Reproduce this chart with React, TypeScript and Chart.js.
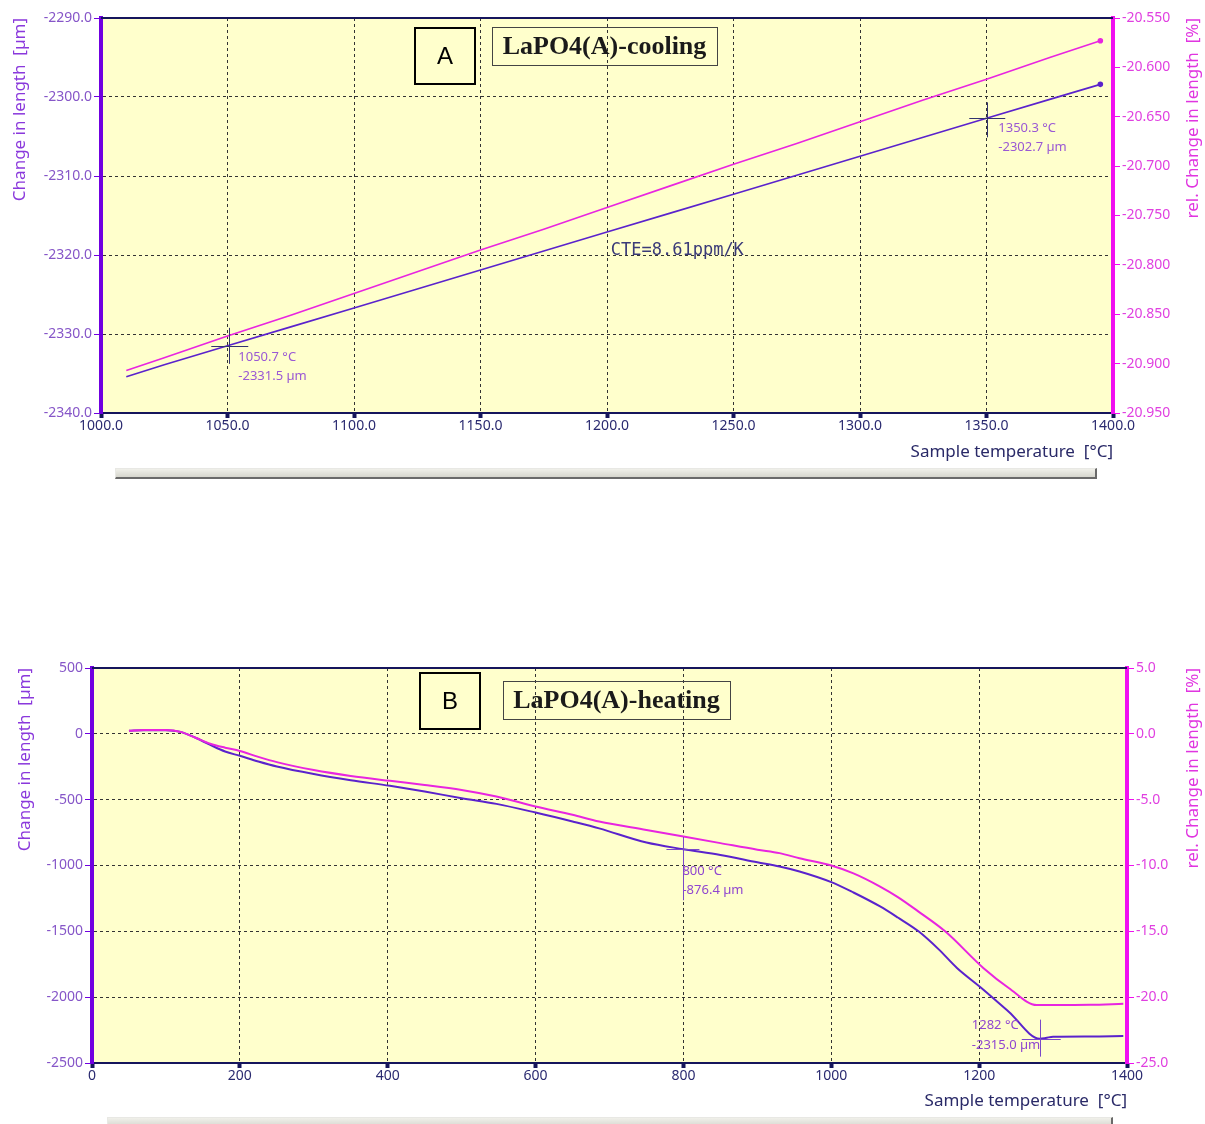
import React, { useEffect, useRef } from 'react';
import { Chart, registerables } from 'chart.js';

Chart.register(...registerables);

// ---------- Panel A : LaPO4(A)-cooling ----------
const coolTemp = [1010, 1025, 1050, 1075, 1100, 1125, 1150, 1175, 1200, 1225, 1250, 1275, 1300, 1325, 1350, 1375, 1395];
const coolLength = [-2335.4, -2333.9, -2331.5, -2329.1, -2326.7, -2324.3, -2321.9, -2319.5, -2317.1, -2314.7, -2312.3, -2309.9, -2307.5, -2305.1, -2302.7, -2300.3, -2298.4];
const coolRel = [-20.907, -20.894, -20.872, -20.851, -20.829, -20.807, -20.785, -20.764, -20.742, -20.720, -20.698, -20.677, -20.655, -20.633, -20.612, -20.590, -20.573];
const coolXTicks = [1000, 1050, 1100, 1150, 1200, 1250, 1300, 1350, 1400];
const coolYTicks = [-2340, -2330, -2320, -2310, -2300, -2290];
const coolY1Ticks = [-20.95, -20.9, -20.85, -20.8, -20.75, -20.7, -20.65, -20.6, -20.55];
const coolMarkTemp = [1050.7, 1350.3];
const coolMarkLength = [-2331.5, -2302.7];
const coolTitle = 'LaPO4(A)-cooling';
const coolCte = 'CTE=8.61ppm/K';

// ---------- Panel B : LaPO4(A)-heating ----------
const heatTempLen = [50, 70, 100, 120, 140, 160, 180, 200, 225, 250, 300, 350, 403, 450, 500, 547, 600, 650, 686, 750, 800, 850, 900, 930, 957, 1000, 1030, 1066, 1090, 1118, 1145, 1170, 1203, 1240, 1282, 1290, 1300, 1350, 1395];
const heatLength = [23, 28, 28, 15, -30, -84, -134, -167, -210, -248, -305, -352, -395, -438, -489, -532, -598, -666, -718, -826, -876, -920, -975, -1007, -1045, -1126, -1205, -1311, -1395, -1500, -1635, -1778, -1930, -2110, -2315, -2310, -2300, -2298, -2295];
const heatTempRel = [50, 70, 100, 120, 140, 160, 180, 200, 225, 250, 300, 350, 403, 450, 500, 547, 600, 650, 686, 750, 800, 850, 900, 930, 957, 1000, 1030, 1066, 1090, 1118, 1154, 1206, 1240, 1278, 1300, 1350, 1395];
const heatRel = [0.23, 0.3, 0.3, 0.15, -0.3, -0.75, -1.05, -1.3, -1.75, -2.15, -2.75, -3.2, -3.57, -3.88, -4.26, -4.76, -5.52, -6.15, -6.66, -7.3, -7.8, -8.3, -8.8, -9.06, -9.45, -10.0, -10.6, -11.6, -12.4, -13.5, -15.0, -17.8, -19.3, -20.6, -20.6, -20.58, -20.5];
const heatXTicks = [0, 200, 400, 600, 800, 1000, 1200, 1400];
const heatYTicks = [-2500, -2000, -1500, -1000, -500, 0, 500];
const heatY1Ticks = [-25, -20, -15, -10, -5, 0, 5];
const heatMarkTemp = [800, 1282];
const heatMarkLength = [-876.4, -2315.0];
const heatTitle = 'LaPO4(A)-heating';

const NAVY = '#15155c';
const PURPLE_AXIS = '#7000e0';
const MAGENTA_AXIS = '#f010f0';
const BLUE_LINE = '#5a22cc';
const MAG_LINE = '#e825e0';
const BG = '#ffffcc';
const SANS = '"Noto Sans", "DejaVu Sans", sans-serif';

type PanelCfg = {
  w: number; h: number; padTop: number; leftW: number; rightW: number; bottomH: number;
  xT: number[]; yT: number[]; y1T: number[]; xDec: number; yDec: number; y1Dec: number;
  lenX: number[]; lenY: number[]; relX: number[]; relY: number[];
  markT: number[]; markV: number[]; markTDec: number;
  markColor: string; textColor: string;
  markExt: number[][];
  textOff: number[][];
  letter: string; letterBox: number[]; title: string; titleBox: number[];
  leftTitleAt: number[]; rightTitleAt: number[]; xTitleAt: number[];
  endDots: boolean; smooth: boolean; lineW: number;
  cte?: { text: string; t: number; v: number };
};

function buildChart(canvas: HTMLCanvasElement, c: PanelCfg) {
  const decor = {
    id: 'decor',
    beforeDraw(chart: any) {
      const { ctx, chartArea: ca } = chart;
      ctx.save();
      ctx.fillStyle = BG;
      ctx.fillRect(ca.left, ca.top, ca.right - ca.left, ca.bottom - ca.top);
      ctx.restore();
    },
    afterDraw(chart: any) {
      const { ctx, chartArea: ca } = chart;
      const xs = chart.scales.x;
      const ys = chart.scales.y;
      ctx.save();
      ctx.strokeStyle = NAVY;
      ctx.lineWidth = 2;
      ctx.beginPath();
      ctx.moveTo(ca.left, ca.top);
      ctx.lineTo(ca.right, ca.top);
      ctx.stroke();

      const [lx, ly, lw, lh] = c.letterBox;
      ctx.strokeStyle = '#000';
      ctx.lineWidth = 2;
      ctx.strokeRect(lx, ly, lw, lh);
      ctx.fillStyle = '#000';
      ctx.font = '24px "Liberation Sans", sans-serif';
      ctx.textAlign = 'center';
      ctx.textBaseline = 'middle';
      ctx.fillText(c.letter, lx + lw / 2, ly + lh / 2 + 1);

      const [tx, ty, tw, th] = c.titleBox;
      ctx.strokeStyle = '#444';
      ctx.lineWidth = 1;
      ctx.strokeRect(tx + 0.5, ty + 0.5, tw, th);
      ctx.fillStyle = '#1a1a1a';
      ctx.font = 'bold 26px "Liberation Serif", serif';
      ctx.textAlign = 'center';
      ctx.fillText(c.title, tx + tw / 2, ty + th / 2 + 1);

      ctx.font = '17px ' + SANS;
      ctx.textBaseline = 'middle';
      ctx.save();
      ctx.translate(c.leftTitleAt[0], c.leftTitleAt[1]);
      ctx.rotate(-Math.PI / 2);
      ctx.textAlign = 'right';
      ctx.fillStyle = '#8a38dc';
      ctx.fillText('Change in length  [µm]', 0, 0);
      ctx.restore();
      ctx.save();
      ctx.translate(c.rightTitleAt[0], c.rightTitleAt[1]);
      ctx.rotate(-Math.PI / 2);
      ctx.textAlign = 'right';
      ctx.fillStyle = '#e035e0';
      ctx.fillText('rel. Change in length  [%]', 0, 0);
      ctx.restore();
      ctx.textAlign = 'right';
      ctx.fillStyle = '#2a2a68';
      ctx.fillText('Sample temperature  [°C]', c.xTitleAt[0], c.xTitleAt[1]);

      if (c.cte) {
        ctx.font = '17px "DejaVu Sans Mono", monospace';
        ctx.fillStyle = '#3a3a78';
        ctx.textAlign = 'left';
        ctx.textBaseline = 'alphabetic';
        ctx.fillText(c.cte.text, xs.getPixelForValue(c.cte.t), ys.getPixelForValue(c.cte.v));
      }

      c.markT.forEach((t, i) => {
        const px = xs.getPixelForValue(t);
        const py = ys.getPixelForValue(c.markV[i]);
        const [el, er, eu, ed] = c.markExt[i];
        ctx.strokeStyle = c.markColor;
        ctx.lineWidth = 1;
        ctx.beginPath();
        ctx.moveTo(px - el, Math.round(py) + 0.5);
        ctx.lineTo(px + er, Math.round(py) + 0.5);
        ctx.moveTo(Math.round(px) + 0.5, py - eu);
        ctx.lineTo(Math.round(px) + 0.5, py + ed);
        ctx.stroke();
        const [dx, dy1, dy2] = c.textOff[i];
        ctx.font = '13px ' + SANS;
        ctx.fillStyle = c.textColor;
        ctx.textAlign = 'left';
        ctx.textBaseline = 'middle';
        ctx.fillText(t.toFixed(c.markTDec) + ' °C', px + dx, py + dy1);
        ctx.fillText(c.markV[i].toFixed(1) + ' µm', px + dx, py + dy2);
      });
      ctx.restore();
    },
  };

  const tickFont = { family: SANS, size: 14 };
  const setTicks = (arr: number[]) => (s: any) => {
    s.ticks = arr.map((v) => ({ value: v }));
  };
  const lastLen = c.lenX.length - 1;
  const lastRel = c.relX.length - 1;

  return new Chart(canvas, {
    type: 'line',
    data: {
      datasets: [
        {
          data: c.relX.map((x, i) => ({ x, y: c.relY[i] })),
          yAxisID: 'y1',
          borderColor: MAG_LINE,
          backgroundColor: MAG_LINE,
          borderWidth: c.lineW,
          pointRadius: (ctx: any) => (c.endDots && ctx.dataIndex === lastRel ? 2 : 0),
          tension: 0,
          cubicInterpolationMode: c.smooth ? 'monotone' : 'default',
        },
        {
          data: c.lenX.map((x, i) => ({ x, y: c.lenY[i] })),
          yAxisID: 'y',
          borderColor: BLUE_LINE,
          backgroundColor: BLUE_LINE,
          borderWidth: c.lineW,
          pointRadius: (ctx: any) => (c.endDots && ctx.dataIndex === lastLen ? 2 : 0),
          tension: 0,
          cubicInterpolationMode: c.smooth ? 'monotone' : 'default',
        },
      ],
    } as any,
    options: {
      responsive: false,
      maintainAspectRatio: false,
      animation: false,
      devicePixelRatio: 1,
      layout: { padding: { top: c.padTop, left: 0, right: 0, bottom: 0 } },
      plugins: { legend: { display: false }, tooltip: { enabled: false }, title: { display: false } },
      scales: {
        x: {
          type: 'linear',
          min: c.xT[0],
          max: c.xT[c.xT.length - 1],
          afterBuildTicks: setTicks(c.xT),
          afterFit: (s: any) => { s.height = c.bottomH; },
          grid: { color: '#333', lineWidth: 1, drawTicks: true, tickLength: 5, tickWidth: 4, tickColor: NAVY, tickBorderDash: [] },
          border: { display: true, color: NAVY, width: 2, dash: [3, 3] },
          ticks: { color: '#2a2a70', font: tickFont, padding: 0, maxRotation: 0, autoSkip: false, callback: (v: any) => Number(v).toFixed(c.xDec) },
        },
        y: {
          type: 'linear',
          position: 'left',
          min: c.yT[0],
          max: c.yT[c.yT.length - 1],
          afterBuildTicks: setTicks(c.yT),
          afterFit: (s: any) => { s.width = c.leftW; },
          grid: { color: '#333', lineWidth: 1, drawTicks: true, tickLength: 7, tickWidth: 1, tickColor: PURPLE_AXIS, tickBorderDash: [] },
          border: { display: true, color: PURPLE_AXIS, width: 4, dash: [3, 3] },
          ticks: { color: '#8656c8', font: tickFont, padding: 2, autoSkip: false, callback: (v: any) => Number(v).toFixed(c.yDec) },
        },
        y1: {
          type: 'linear',
          position: 'right',
          min: c.y1T[0],
          max: c.y1T[c.y1T.length - 1],
          afterBuildTicks: setTicks(c.y1T),
          afterFit: (s: any) => { s.width = c.rightW; },
          grid: { drawOnChartArea: false, drawTicks: true, tickLength: 7, tickWidth: 1, tickColor: MAGENTA_AXIS, tickBorderDash: [] },
          border: { display: true, color: MAGENTA_AXIS, width: 4 },
          ticks: { color: '#e040e0', font: tickFont, padding: 2, autoSkip: false, callback: (v: any) => Number(v).toFixed(c.y1Dec) },
        },
      },
    } as any,
    plugins: [decor],
  });
}

const panelA: PanelCfg = {
  w: 1205, h: 490, padTop: 18, leftW: 101, rightW: 92, bottomH: 77,
  xT: coolXTicks, yT: coolYTicks, y1T: coolY1Ticks, xDec: 1, yDec: 1, y1Dec: 3,
  lenX: coolTemp, lenY: coolLength, relX: coolTemp, relY: coolRel,
  markT: coolMarkTemp, markV: coolMarkLength, markTDec: 1,
  markColor: '#33336e', textColor: '#9a58d4',
  markExt: [[18, 19, 18, 18], [18, 18, 16, 19]],
  textOff: [[9, 11, 30], [11, 10, 29]],
  letter: 'A', letterBox: [415, 28, 60, 56], title: coolTitle, titleBox: [492, 27, 225, 38],
  leftTitleAt: [20, 18], rightTitleAt: [1193, 18], xTitleAt: [1113, 452],
  endDots: true, smooth: false, lineW: 1.6,
  cte: { text: coolCte, t: 1201.5, v: -2320 },
};

const panelB: PanelCfg = {
  w: 1205, h: 484, padTop: 28, leftW: 92, rightW: 78, bottomH: 61,
  xT: heatXTicks, yT: heatYTicks, y1T: heatY1Ticks, xDec: 0, yDec: 0, y1Dec: 1,
  lenX: heatTempLen, lenY: heatLength, relX: heatTempRel, relY: heatRel,
  markT: heatMarkTemp, markV: heatMarkLength, markTDec: 0,
  markColor: '#7a48c8', textColor: '#9046d0',
  markExt: [[17, 16, 12, 51], [18, 21, 19, 18]],
  textOff: [[-1, 22, 41], [-68, -13, 7]],
  letter: 'B', letterBox: [420, 33, 60, 56], title: heatTitle, titleBox: [503, 41, 227, 38],
  leftTitleAt: [25, 28], rightTitleAt: [1193, 28], xTitleAt: [1127, 461],
  endDots: false, smooth: true, lineW: 2,
};

function Panel({ cfg, top }: { cfg: PanelCfg; top: number }) {
  const ref = useRef<HTMLCanvasElement | null>(null);
  useEffect(() => {
    if (!ref.current) return;
    const chart = buildChart(ref.current, cfg);
    return () => chart.destroy();
  }, [cfg]);
  return (
    <canvas
      ref={ref}
      width={cfg.w}
      height={cfg.h}
      style={{ position: 'absolute', left: 0, top, width: cfg.w, height: cfg.h }}
    />
  );
}

const barStyle = (left: number, top: number, width: number, height: number): React.CSSProperties => ({
  position: 'absolute',
  left,
  top,
  width,
  height,
  boxSizing: 'border-box',
  background: 'linear-gradient(#f0f0ea, #d6d6ce)',
  borderTop: '1px solid #e8e8e4',
  borderLeft: '1px solid #e8e8e4',
  borderRight: '2px solid #6a6a6a',
  borderBottom: '2px solid #6a6a6a',
});

export default function App() {
  return (
    <div style={{ position: 'absolute', left: 0, top: 0, width: 1205, height: 1124, background: '#fff', overflow: 'hidden' }}>
      <Panel cfg={panelA} top={0} />
      <div style={barStyle(115, 468, 982, 11)} />
      <Panel cfg={panelB} top={640} />
      <div style={barStyle(107, 1117, 1006, 12)} />
    </div>
  );
}
